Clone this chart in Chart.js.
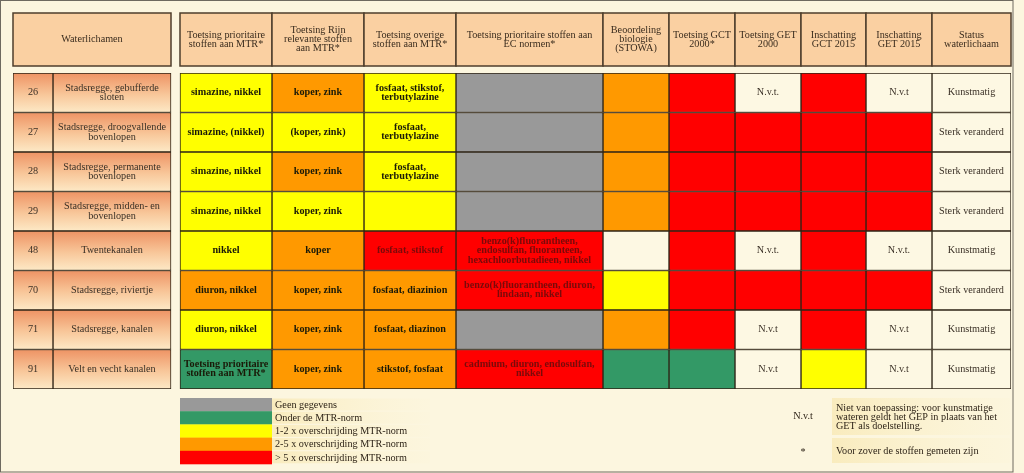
<!DOCTYPE html>
<html><head><meta charset="utf-8">
<script src="https://cdn.jsdelivr.net/npm/chart.js@4/dist/chart.umd.min.js"></script>
<style>html,body{margin:0;padding:0;background:#FCF6DF;overflow:hidden}canvas{display:block}</style>
</head><body>
<canvas id="c" width="1024" height="473"></canvas>
<script>
// ---------- DATA ----------
const rowNumbers = ['26','27','28','29','48','70','71','91'];
const rowNames = ['Stadsregge, gebufferde\nsloten','Stadsregge, droogvallende\nbovenlopen','Stadsregge, permanente\nbovenlopen','Stadsregge, midden- en\nbovenlopen','Twentekanalen','Stadsregge, riviertje','Stadsregge, kanalen','Velt en vecht kanalen'];
const leftHeader = 'Waterlichamen';
const headers = ['Toetsing prioritaire\nstoffen aan MTR*','Toetsing Rijn\nrelevante stoffen\naan MTR*','Toetsing overige\nstoffen aan MTR*','Toetsing prioritaire stoffen aan\nEC normen*','Beoordeling\nbiologie\n(STOWA)','Toetsing GCT\n2000*','Toetsing GET\n2000','Inschatting\nGCT 2015','Inschatting\nGET 2015','Status\nwaterlichaam'];
const mtrPrioText = ['simazine, nikkel','simazine, (nikkel)','simazine, nikkel','simazine, nikkel','nikkel','diuron, nikkel','diuron, nikkel','Toetsing prioritaire\nstoffen aan MTR*'];
const mtrPrioLevel = ['Y','Y','Y','Y','Y','O','Y','G'];
const rijnText = ['koper, zink','(koper, zink)','koper, zink','koper, zink','koper','koper, zink','koper, zink','koper, zink'];
const rijnLevel = ['O','Y','O','Y','O','O','O','O'];
const overigeText = ['fosfaat, stikstof,\nterbutylazine','fosfaat,\nterbutylazine','fosfaat,\nterbutylazine','','fosfaat, stikstof','fosfaat, diazinion','fosfaat, diazinon','stikstof, fosfaat'];
const overigeLevel = ['Y','Y','Y','Y','R','O','O','O'];
const ecText = ['','','','','benzo(k)fluorantheen,\nendosulfan, fluoranteen,\nhexachloorbutadieen, nikkel','benzo(k)fluorantheen, diuron,\nlindaan, nikkel','','cadmium, diuron, endosulfan,\nnikkel'];
const ecLevel = ['N','N','N','N','R','R','N','R'];
const biologieLevel = ['O','O','O','O','C','Y','O','G'];
const gct2000Level = ['R','R','R','R','R','R','R','G'];
const get2000Text = ['N.v.t.','','','','N.v.t.','','N.v.t','N.v.t'];
const get2000Level = ['C','R','R','R','C','R','C','C'];
const gct2015Level = ['R','R','R','R','R','R','R','Y'];
const get2015Text = ['N.v.t','','','','N.v.t.','','N.v.t','N.v.t'];
const get2015Level = ['C','R','R','R','C','R','C','C'];
const statusText = ['Kunstmatig','Sterk veranderd','Sterk veranderd','Sterk veranderd','Kunstmatig','Sterk veranderd','Kunstmatig','Kunstmatig'];
const statusLevel = ['C','C','C','C','C','C','C','C'];
const legendLabels = ['Geen gegevens','Onder de MTR-norm','1-2 x overschrijding MTR-norm','2-5 x overschrijding MTR-norm','> 5 x overschrijding MTR-norm'];
const legendLevels = ['N','G','Y','O','R'];
const noteKeys = ['N.v.t','*'];
const noteTexts = ['Niet van toepassing: voor kunstmatige\nwateren geldt het GEP in plaats van het\nGET als doelstelling.','Voor zover de stoffen gemeten zijn'];

// ---------- STYLE / LAYOUT ----------
const LEVEL_COLORS = {N:'#999999', G:'#339966', Y:'#FFFF00', O:'#FF9900', R:'#FF0000', C:'#FDF8E3'};
const FONT = '"Liberation Serif", "Times New Roman", serif';
const FS = 10.2;
const LH = 9.2;
const colUnits = [40,118,9,92,92,92,147,66,66,66,65,66,79]; // index 2 is the gap between blocks
const GAP_INDEX = 2;

const columns = [
  {text: rowNumbers, level: null, kind: 'left'},
  {text: rowNames, level: null, kind: 'left'},
  {text: mtrPrioText, level: mtrPrioLevel, kind: 'bold'},
  {text: rijnText, level: rijnLevel, kind: 'bold'},
  {text: overigeText, level: overigeLevel, kind: 'bold'},
  {text: ecText, level: ecLevel, kind: 'bold'},
  {text: null, level: biologieLevel, kind: 'plain'},
  {text: null, level: gct2000Level, kind: 'plain'},
  {text: get2000Text, level: get2000Level, kind: 'plain'},
  {text: null, level: gct2015Level, kind: 'plain'},
  {text: get2015Text, level: get2015Level, kind: 'plain'},
  {text: statusText, level: statusLevel, kind: 'plain'}
];

// column edges in x-units
const edges = [];
{
  let acc = 0;
  colUnits.forEach((w, i) => {
    if (i !== GAP_INDEX) edges.push([acc, acc + w]);
    acc += w;
  });
}
const totalUnits = colUnits.reduce((a, b) => a + b, 0);

function leftGradient(c) {
  const ch = c.chart;
  if (c.dataIndex === undefined || !ch.chartArea || !ch.scales.y) return '#F4B585';
  const ys = ch.scales.y;
  const yc = ys.getPixelForValue(c.dataIndex);
  const h = (ch.chartArea.bottom - ch.chartArea.top) / rowNumbers.length;
  const g = ch.ctx.createLinearGradient(0, yc - h / 2, 0, yc + h / 2);
  g.addColorStop(0, '#EE9364');
  g.addColorStop(0.55, '#F8C79A');
  g.addColorStop(1, '#FDE9C6');
  return g;
}

const datasets = columns.map((col, ci) => ({
  label: 'col' + ci,
  data: rowNumbers.map(() => [edges[ci][0], edges[ci][1]]),
  backgroundColor: col.level ? col.level.map(l => LEVEL_COLORS[l]) : leftGradient,
  borderColor: '#2E2416',
  borderWidth: 1,
  borderSkipped: false,
  grouped: false,
  barPercentage: 1,
  categoryPercentage: 1
}));

function drawLines(ctx, text, cx, cy, lh) {
  const lines = text.split('\n');
  const y0 = cy - (lines.length - 1) * lh / 2;
  lines.forEach((ln, i) => ctx.fillText(ln, cx, y0 + i * lh));
}

const bgPlugin = {
  id: 'bg',
  beforeDraw(chart) {
    const c = chart.ctx;
    c.save();
    c.fillStyle = '#FCF6DF';
    c.fillRect(0, 0, chart.width, chart.height);
    c.strokeStyle = '#6E6A60';
    c.lineWidth = 1;
    c.strokeRect(0.5, 0.5, 1012.5, 471.5);
    c.restore();
  }
};

const headerPlugin = {
  id: 'header',
  afterDatasetsDraw(chart) {
    const c = chart.ctx, xs = chart.scales.x;
    const top = 13, bottom = 66;
    c.save();
    c.lineWidth = 1.5;
    c.strokeStyle = '#4E3E2C';
    c.fillStyle = '#FAD0A2';
    c.textAlign = 'center';
    c.textBaseline = 'middle';
    // left header spanning first two columns
    const lx0 = xs.getPixelForValue(edges[0][0]), lx1 = xs.getPixelForValue(edges[1][1]);
    c.fillStyle = '#FAD0A2';
    c.fillRect(lx0, top, lx1 - lx0, bottom - top);
    c.strokeRect(lx0, top, lx1 - lx0, bottom - top);
    c.fillStyle = '#3A2C1E';
    c.font = FS + 'px ' + FONT;
    c.fillText(leftHeader, (lx0 + lx1) / 2, (top + bottom) / 2);
    headers.forEach((h, i) => {
      const e = edges[i + 2];
      const x0 = xs.getPixelForValue(e[0]), x1 = xs.getPixelForValue(e[1]);
      c.fillStyle = '#FAD0A2';
      c.fillRect(x0, top, x1 - x0, bottom - top);
      c.strokeRect(x0, top, x1 - x0, bottom - top);
      c.fillStyle = '#3A2C1E';
      drawLines(c, h, (x0 + x1) / 2, (top + bottom) / 2, LH);
    });
    c.restore();
  }
};

const cellTextPlugin = {
  id: 'celltext',
  afterDatasetsDraw(chart) {
    const c = chart.ctx;
    c.save();
    c.textAlign = 'center';
    c.textBaseline = 'middle';
    columns.forEach((col, ci) => {
      if (!col.text) return;
      const meta = chart.getDatasetMeta(ci);
      meta.data.forEach((el, ri) => {
        const t = col.text[ri];
        if (!t) return;
        const p = el.getProps(['x', 'y', 'base'], true);
        const cx = (p.x + p.base) / 2;
        if (col.kind === 'bold') {
          c.font = 'bold ' + FS + 'px ' + FONT;
          c.fillStyle = col.level[ri] === 'R' ? '#7A0A0A' : '#1A1A08';
        } else {
          c.font = FS + 'px ' + FONT;
          c.fillStyle = '#3A3026';
        }
        drawLines(c, t, cx, p.y, LH);
      });
    });
    c.restore();
  }
};

const legendPlugin = {
  id: 'legendbox',
  afterDraw(chart) {
    const c = chart.ctx, xs = chart.scales.x;
    const sx0 = xs.getPixelForValue(edges[2][0]);
    const sx1 = xs.getPixelForValue(edges[2][1]);
    const top = 398, rh = 13.2;
    c.save();
    c.textBaseline = 'middle';
    c.textAlign = 'left';
    c.font = FS + 'px ' + FONT;
    legendLabels.forEach((lab, i) => {
      const y = top + i * rh;
      const g = c.createLinearGradient(sx1, 0, sx1 + 158, 0);
      g.addColorStop(0, 'rgba(248,232,178,0.75)');
      g.addColorStop(1, 'rgba(252,244,214,0.2)');
      c.fillStyle = g;
      c.fillRect(sx1, y + 0.5, 158, rh - 1.2);
      c.fillStyle = LEVEL_COLORS[legendLevels[i]];
      c.fillRect(sx0, y, sx1 - sx0, rh + 0.3);
      c.fillStyle = '#2E2418';
      c.fillText(lab, sx1 + 3, y + rh / 2 + 0.5);
    });
    // notes
    const nx0 = 832, nx1 = 1010;
    const boxes = [[398, 435], [438, 463]];
    noteKeys.forEach((k, i) => {
      const [b0, b1] = boxes[i];
      const g = c.createLinearGradient(nx0, 0, nx1, 0);
      g.addColorStop(0, 'rgba(248,232,178,0.75)');
      g.addColorStop(1, 'rgba(252,244,214,0.3)');
      c.fillStyle = g;
      c.fillRect(nx0, b0, nx1 - nx0, b1 - b0);
      c.fillStyle = '#2E2418';
      c.textAlign = 'center';
      c.fillText(k, 803, (b0 + b1) / 2 + (i === 1 ? 1.5 : 0));
      c.textAlign = 'left';
      drawLines(c, noteTexts[i], 836, (b0 + b1) / 2 + 1, LH);
    });
    c.restore();
  }
};

new Chart(document.getElementById('c'), {
  type: 'bar',
  data: { labels: rowNumbers, datasets },
  options: {
    indexAxis: 'y',
    responsive: false,
    animation: false,
    devicePixelRatio: 1,
    layout: { padding: { left: 13, right: 13, top: 73, bottom: 84 } },
    scales: {
      x: { type: 'linear', min: 0, max: totalUnits, display: false },
      y: { type: 'category', display: false, offset: true }
    },
    plugins: { legend: { display: false }, tooltip: { enabled: false } }
  },
  plugins: [bgPlugin, headerPlugin, cellTextPlugin, legendPlugin]
});
</script>
</body></html>
